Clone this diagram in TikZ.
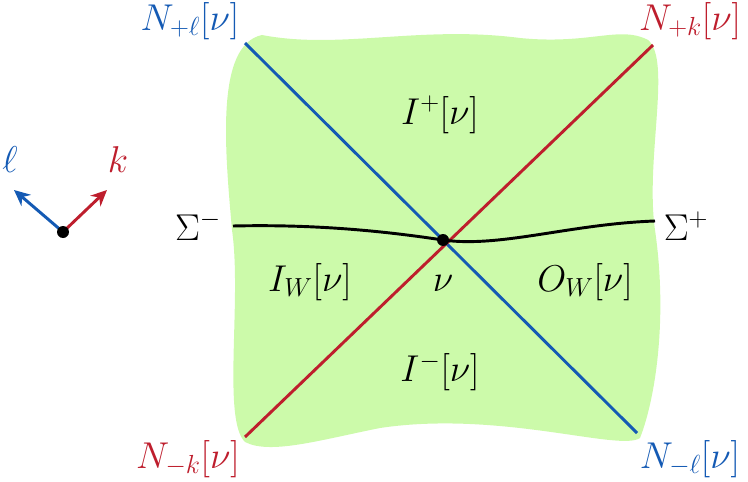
\RequirePackage{fix-cm}
\documentclass[tikz,border=0pt]{standalone}
\usepackage{amsmath}
\usetikzlibrary{arrows.meta}
\definecolor{nblue}{RGB}{20,90,180}
\definecolor{nred}{RGB}{190,30,45}
\definecolor{ngreen}{RGB}{204,250,170}
\tikzset{lbl/.style={font=\fontsize{28}{33}\selectfont, inner sep=0pt},
         nline/.style={line width=2.2pt},
         vec/.style={line width=2.2pt, -{Stealth[length=12pt,width=11pt]}}}
\begin{document}
\begin{tikzpicture}[x=0.75pt,y=-0.75pt]
	\useasboundingbox (0,0) rectangle (748,481);
	% -------------- region --------------
	\fill[ngreen] (262,35) .. controls (340,50) and (420,25) .. (520,38)
		.. controls (590,45) and (620,25) .. (648,40)
		.. controls (672,60) and (645,160) .. (655,230)
		.. controls (668,320) and (655,400) .. (640,438)
		.. controls (620,452) and (500,410) .. (380,428)
		.. controls (320,440) and (270,455) .. (245,442)
		.. controls (222,420) and (242,300) .. (232,230)
		.. controls (225,150) and (215,45) .. (262,35) -- cycle;
	% -------------- null lines --------------
	\coordinate (nu) at (443,240);
	\coordinate (plk) at (245,43);
	\coordinate (mnl) at (637,433);
	\coordinate (pk) at (653,45);
	\coordinate (mk) at (245,437);
	\draw[nline, nblue] (plk) -- (mnl);
	\draw[nline, nred] (mk) -- (pk);
	% -------------- Cauchy surface --------------
	\coordinate (sm) at (233,226);
	\coordinate (sp) at (655,221);
	\draw[nline, black] (sm) .. controls (320,224) and (390,232) .. (nu)
		.. controls (500,248) and (570,224) .. (sp);
	\fill (nu) circle (6);
	% -------------- labels --------------
	\node[lbl, nblue] (Nl) at (190,21) {$N_{+\ell}[\nu]$};
	\node[lbl, nred] (Nk) at (690,21) {$N_{+k}[\nu]$};
	\node[lbl, nred] (Nmk) at (188,459) {$N_{-k}[\nu]$};
	\node[lbl, nblue] (Nml) at (690,459) {$N_{-\ell}[\nu]$};
	\node[lbl] (Sm) at (198,226) {$\Sigma^-$};
	\node[lbl] (Sp) at (686,226) {$\Sigma^+$};
	\node[lbl] (Ip) at (440,115) {$I^+[\nu]$};
	\node[lbl] (IW) at (310,282) {$I_W[\nu]$};
	\node[lbl] (nulbl) at (443,283) {$\nu$};
	\node[lbl] (OW) at (585,282) {$O_W[\nu]$};
	\node[lbl] (Im) at (440,372) {$I^-[\nu]$};
	% -------------- legend --------------
	\coordinate (o) at (63,232);
	\coordinate (le) at (14,190);
	\coordinate (ke) at (107,190);
	\draw[vec, nblue] (o) -- (le);
	\draw[vec, nred] (o) -- (ke);
	\fill (o) circle (6);
	\node[lbl, nblue] (ell) at (10,160) {$\ell$};
	\node[lbl, nred] (k) at (118,160) {$k$};
\end{tikzpicture}
\end{document}
